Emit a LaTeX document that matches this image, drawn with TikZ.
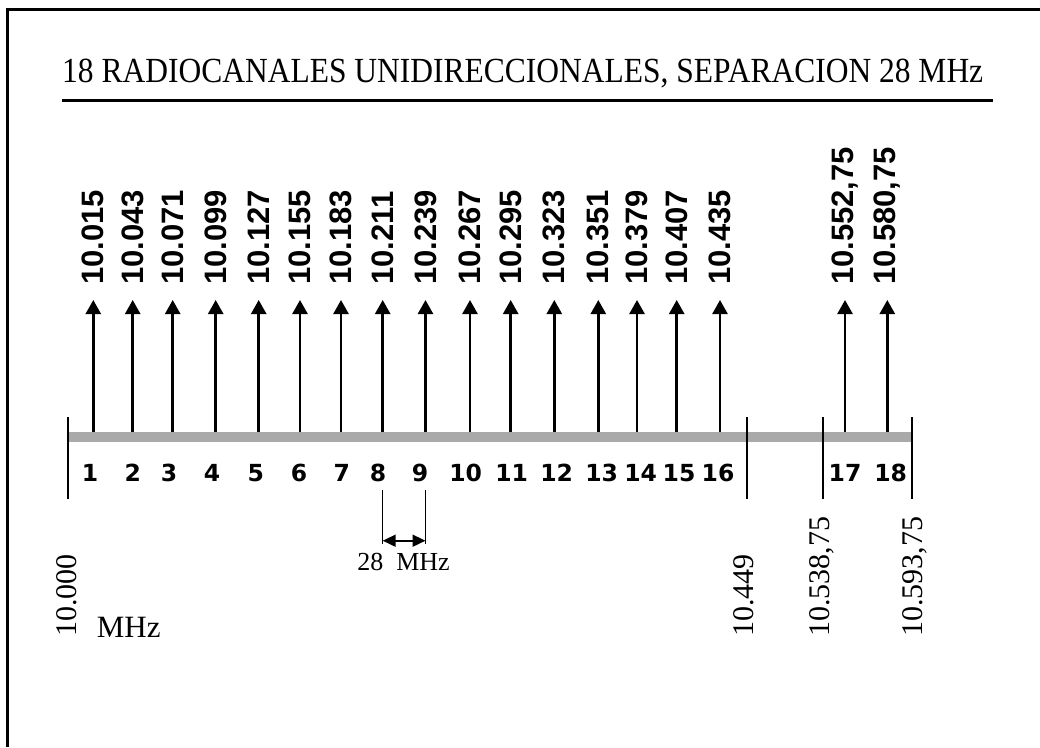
\documentclass[tikz,border=0pt]{standalone}
\usepackage{fontspec}
\setmainfont{Liberation Serif}
\newfontfamily\freqfont{Liberation Sans}
\newfontfamily\chfont{DejaVu Sans}
\usetikzlibrary{arrows.meta}
\definecolor{barGray}{HTML}{A9A9A9}

\begin{document}
\begin{tikzpicture}[x=1pt, y=-1pt,
    sig/.style={line width=2.6pt, -{Triangle[length=14pt,width=15pt]}},
    edge/.style={line width=2pt},
    freq/.style={rotate=90, anchor=west, inner sep=0pt, font=\freqfont\bfseries\fontsize{31}{31}\selectfont},
    chnum/.style={anchor=base, inner sep=0pt, font=\chfont\bfseries\fontsize{23.5}{23.5}\selectfont},
    limlbl/.style={rotate=90, anchor=west, inner sep=0pt, font=\fontsize{30}{30}\selectfont}]
  \useasboundingbox (0,0) rectangle (1040,747);
  % frame and title
  \draw[line width=3pt] (7.5,747) -- (7.5,9.5) -- (1040,9.5);
  \node[anchor=base west, inner sep=0pt, font=\fontsize{31.5}{31.5}\selectfont] (title) at (62,82)
    {\scalebox{1}[1.12]{18 RADIOCANALES UNIDIRECCIONALES, SEPARACION 28 MHz}};
  \draw[line width=2.5pt] (62,100.5) -- (993,100.5);
  % band and its limits
  \fill[barGray] (67.7,432) rectangle (911.7,442);
  \foreach \x in {67.7, 746.7, 823.3, 911.7}
    \draw[edge] (\x,417) -- (\x,499);
  \node[limlbl] (lo) at (66.7,637) {10.000};
  \node[anchor=base west, inner sep=0pt, font=\fontsize{31}{31}\selectfont] (mhz) at (96.7,637.3) {MHz};
  \node[limlbl] (gap) at (743.3,637) {10.449};
  \node[limlbl] (hi) at (822,637) {10.538,75};
  \node[limlbl] (up) at (914.7,637) {10.593,75};
  % channels
  \foreach \n/\x/\xn/\f in {1/93.3/90/10.015, 2/132.7/132.7/10.043, 3/172.7/169/10.071,
      4/215.7/212/10.099, 5/258.7/255.7/10.127, 6/300/299/10.155, 7/341/341.7/10.183,
      8/382.7/378/10.211, 9/425.5/420/10.239, 10/470/465.7/10.267, 11/510.7/511.7/10.295,
      12/554.3/556.7/10.323, 13/598.3/601.7/10.351, 14/637/640.7/10.379, 15/676.7/679/10.407,
      16/720/718/10.435, 17/845/845/{10.552,75}, 18/887.3/890.7/{10.580,75}} {
    \coordinate (b\n) at (\x,432);
    \coordinate (t\n) at (\x,300);
    \draw[sig] (b\n) -- (t\n);
    \node[freq] (f\n) at (\x,285) {\f};
    \node[chnum] (c\n) at (\xn,481.7) {\n};
  }
  % spacing 8-9
  \coordinate (d8) at (382.7,540.7);
  \coordinate (d9) at (425.5,540.7);
  \draw[line width=1.5pt] (382.7,490) -- (382.7,543.5);
  \draw[line width=1.5pt] (425.5,490) -- (425.5,543.5);
  \draw[line width=1.7pt, {Triangle[length=13pt,width=12pt]}-{Triangle[length=13pt,width=12pt]}] (d8) -- (d9);
  \node[anchor=base, inner sep=0pt, font=\fontsize{26}{26}\selectfont] (sep) at (403.5,570) {28~~MHz};
\end{tikzpicture}
\end{document}
